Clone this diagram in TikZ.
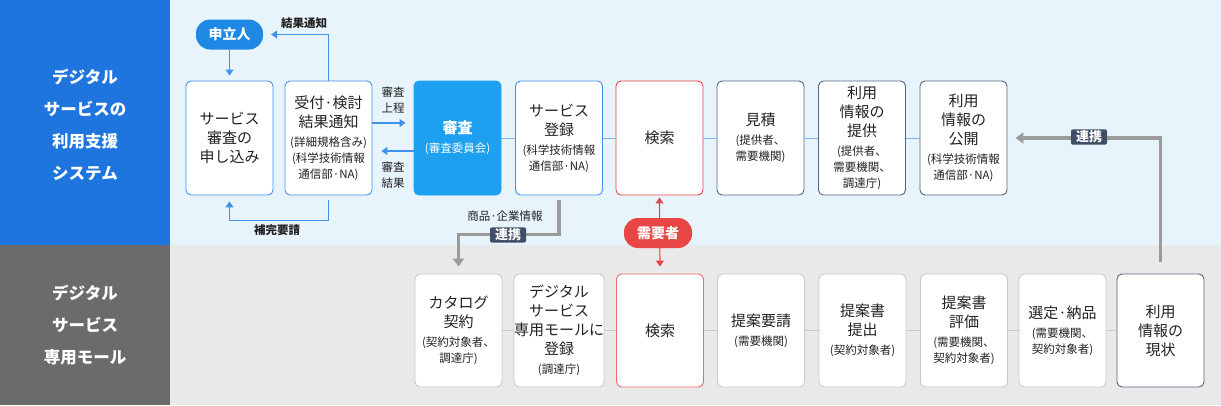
\documentclass[tikz,border=0pt]{standalone}
\usepackage{fontspec}
\setmainfont{Noto Sans CJK JP}
\usetikzlibrary{arrows.meta}
\definecolor{bandblue}{HTML}{1F75DE}
\definecolor{bandgray}{HTML}{6B6B6B}
\definecolor{topbg}{HTML}{E8F4FB}
\definecolor{botbg}{HTML}{E9E9E9}
\definecolor{bblue}{HTML}{3F93EC}
\definecolor{sfill}{HTML}{1DA0F0}
\definecolor{pillblue}{HTML}{1E88E5}
\definecolor{ured}{HTML}{E84545}
\definecolor{slate}{HTML}{3F4D66}
\definecolor{slateb}{HTML}{56637D}
\definecolor{lgray}{HTML}{C9C9C9}
\definecolor{cgray}{HTML}{9B9B9B}
\definecolor{txt}{HTML}{222222}
\newcommand\sm[1]{{\fontsize{11.5}{16}\selectfont #1}}
\tikzset{
  box/.style={draw, fill=white, rounded corners=5pt, minimum width=87pt,
    minimum height=114pt, inner sep=0pt, align=center, line width=0.9pt,
    text=txt, font=\fontsize{15}{19}\selectfont},
  topbox/.style={box, draw=bblue},
  slatebox/.style={box, draw=slateb},
  redbox/.style={box, draw=ured},
  botbox/.style={box, draw=lgray, minimum height=113pt},
  band/.style={text=white, align=center, font=\fontsize{16.5}{32}\selectfont\bfseries},
  pill/.style={rounded corners=14pt, minimum height=30pt, text=white, inner sep=0pt,
    font=\fontsize{14}{16}\selectfont\bfseries},
  tag/.style={fill=slate, text=white, rounded corners=2pt, inner xsep=5pt, inner ysep=1.5pt,
    font=\fontsize{13}{15}\selectfont\bfseries},
  lbl/.style={text=txt, align=center, font=\fontsize{11.5}{16}\selectfont},
  barrow/.style={draw=bblue, line width=1.2pt, -{Triangle[width=8pt,length=6pt]}},
  blink/.style={draw=bblue!70, line width=1pt},
  glink/.style={draw=lgray, line width=1pt},
  garrow/.style={draw=cgray, line width=3.5pt, -{Triangle[width=11pt,length=8pt]}},
  rarrow/.style={draw=ured, line width=1.2pt, {Triangle[width=8pt,length=6pt]}-{Triangle[width=8pt,length=6pt]}}
}
\begin{document}
\begin{tikzpicture}[x=1pt,y=-1pt]
\useasboundingbox (0,0) rectangle (1221,405);
% backgrounds
\fill[topbg] (170,0) rectangle (1221,245);
\fill[botbg] (170,245) rectangle (1221,405);
\fill[bandblue] (0,0) rectangle (170,245);
\fill[bandgray] (0,245) rectangle (170,405);
\node[band] (lab1) at (85,125) {デジタル\\サービスの\\利用支援\\システム};
\node[band] (lab2) at (85,325) {デジタル\\サービス\\専用モール};

% top row
\node[topbox] (b1) at (229.5,138) {サービス\\審査の\\申し込み};
\node[topbox] (b2) at (328.5,138) {受付·検討\\結果通知\\\sm{(詳細規格含み)}\\[-3pt]\sm{(科学技術情報}\\[-3pt]\sm{通信部·NA)}};
\node[box, draw=sfill, fill=sfill, text=white] (b3) at (457.5,138) {\textbf{審査}\\\sm{(審査委員会)}};
\node[topbox] (b4) at (559,138) {サービス\\登録\\\sm{(科学技術情報}\\[-3pt]\sm{通信部·NA)}};
\node[redbox] (b5) at (659.5,138) {検索};
\node[slatebox] (b6) at (760.5,138) {見積\\\sm{(提供者、}\\[-3pt]\sm{需要機関)}};
\node[slatebox] (b7) at (862,138) {利用\\情報の\\提供\\\sm{(提供者、}\\[-3pt]\sm{需要機関、}\\[-3pt]\sm{調達庁)}};
\node[slatebox] (b8) at (963.5,138) {利用\\情報の\\公開\\\sm{(科学技術情報}\\[-3pt]\sm{通信部·NA)}};

% bottom row
\node[botbox] (c1) at (458.5,330.5) {カタログ\\契約\\\sm{(契約対象者、}\\[-3pt]\sm{調達庁)}};
\node[botbox] (c2) at (559,330.5) {デジタル\\サービス\\専用モールに\\登録\\\sm{(調達庁)}};
\node[botbox, draw=ured!80] (c3) at (660,330.5) {検索};
\node[botbox] (c4) at (761,330.5) {提案要請\\\sm{(需要機関)}};
\node[botbox] (c5) at (862.5,330.5) {提案書\\提出\\\sm{(契約対象者)}};
\node[botbox] (c6) at (964,330.5) {提案書\\評価\\\sm{(需要機関、}\\[-3pt]\sm{契約対象者)}};
\node[botbox] (c7) at (1062.5,330.5) {選定·納品\\\sm{(需要機関、}\\[-3pt]\sm{契約対象者)}};
\node[botbox, draw=slateb] (c8) at (1160.5,330.5) {利用\\情報の\\現状};

% links top
\draw[blink] (b3.east) -- (b4.west);
\draw[blink] (b4.east) -- (b5.west);
\draw[blink] (b5.east) -- (b6.west);
\draw[blink] (b6.east) -- (b7.west);
\draw[blink] (b7.east) -- (b8.west);
% links bottom
\draw[glink] (c1.east) -- (c2.west);
\draw[glink] (c2.east) -- (c3.west);
\draw[glink] (c3.east) -- (c4.west);
\draw[glink] (c4.east) -- (c5.west);
\draw[glink] (c5.east) -- (c6.west);
\draw[glink] (c6.east) -- (c7.west);
\draw[glink] (c7.east) -- (c8.west);

% applicant
\node[pill, fill=pillblue, minimum width=67pt] (app) at (229.5,34.5) {申立人};
\draw[barrow, shorten >=5pt] (app.south) -- (b1.north);
\draw[barrow, shorten >=8pt] (b2.north) |- (app.east);
\node[lbl, font=\fontsize{11.5}{16}\selectfont\bfseries] (l1) at (304,23) {結果通知};
\draw[barrow, shorten <=5pt, shorten >=6pt] (b2.south) -- ++(0,25) -| (b1.south);
\node[lbl, font=\fontsize{11.5}{16}\selectfont\bfseries] (l2) at (277,230) {補完要請};
\draw[barrow, shorten >=8pt] ([yshift=15pt]b2.east) -- ([yshift=15pt]b3.west);
\draw[barrow, shorten >=9pt] ([yshift=-13pt]b3.west) -- ([yshift=-13pt]b2.east);
\node[lbl] (l3) at (393,100) {審査\\上程};
\node[lbl] (l4) at (393,175) {審査\\結果};

% catalog link
\draw[garrow, shorten <=5pt, shorten >=7pt] (b4.south) -- ++(0,39) -| (c1.north);
\node[lbl] (l5) at (505,216) {商品·企業情報};
\node[tag] (t1) at (508,235) {連携};

% demand
\draw[rarrow, shorten <=2pt, shorten >=7pt] (b5.south) -- (c3.north);
\node[pill, fill=ured, minimum width=68pt] (dem) at (658,233) {需要者};

% right link
\draw[garrow, shorten <=12pt, shorten >=8pt] (c8.north) |- (b8.east);
\node[tag] (t2) at (1089,137) {連携};
\end{tikzpicture}
\end{document}
